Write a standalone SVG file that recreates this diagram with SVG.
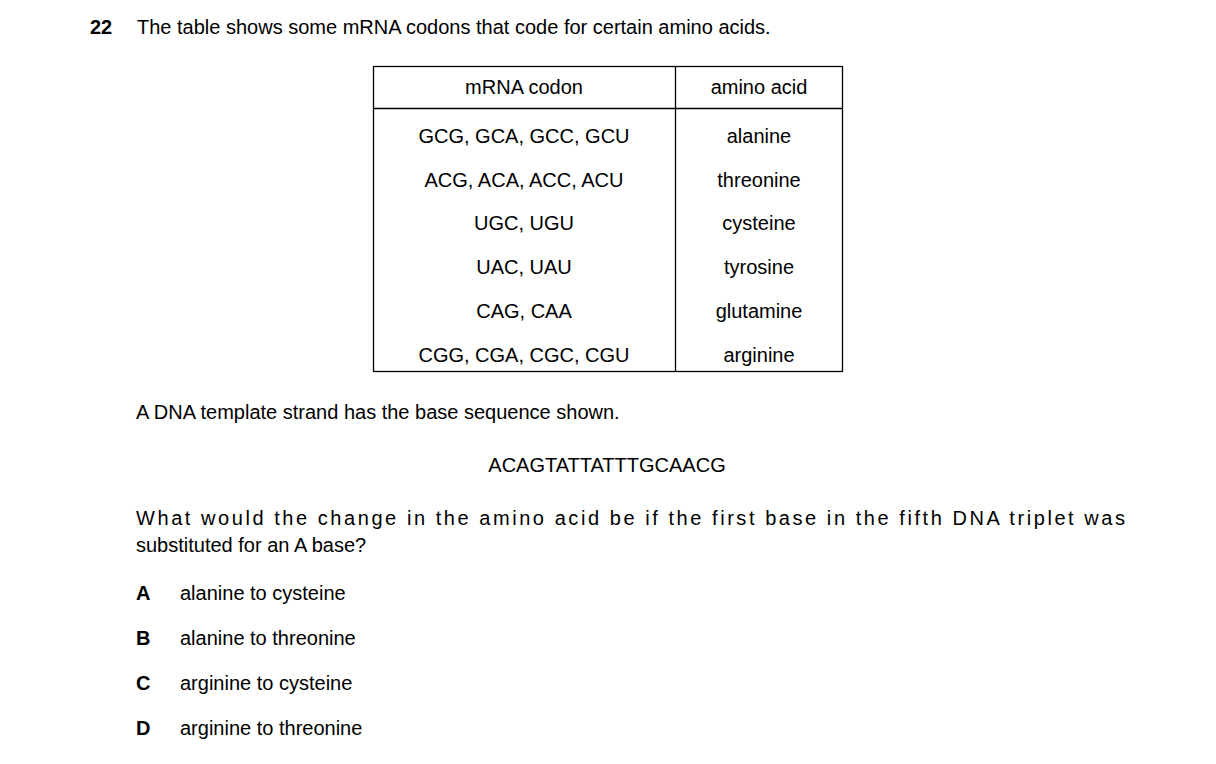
<svg xmlns="http://www.w3.org/2000/svg" width="1216" height="764" viewBox="0 0 1216 764">
<style>
text{font-family:"Liberation Sans",Arial,sans-serif;font-size:20px;fill:#000}
.b{font-weight:bold}
.c{text-anchor:middle}
</style>
<rect width="1216" height="764" fill="#fff"/>
<text x="90" y="34" class="b">22</text>
<text x="137" y="34">The table shows some mRNA codons that code for certain amino acids.</text>
<g fill="none" stroke="#000" stroke-width="1.3">
<rect x="373.5" y="66.5" width="469" height="305"/>
<line x1="675.5" y1="66" x2="675.5" y2="372"/>
<line x1="373" y1="108.5" x2="843" y2="108.5"/>
</g>
<text x="524" y="94" class="c">mRNA codon</text>
<text x="759" y="94" class="c">amino acid</text>
<text x="524" y="143" class="c">GCG, GCA, GCC, GCU</text>
<text x="759" y="143" class="c">alanine</text>
<text x="524" y="187" class="c">ACG, ACA, ACC, ACU</text>
<text x="759" y="187" class="c">threonine</text>
<text x="524" y="230" class="c">UGC, UGU</text>
<text x="759" y="230" class="c">cysteine</text>
<text x="524" y="274" class="c">UAC, UAU</text>
<text x="759" y="274" class="c">tyrosine</text>
<text x="524" y="318" class="c">CAG, CAA</text>
<text x="759" y="318" class="c">glutamine</text>
<text x="524" y="362" class="c">CGG, CGA, CGC, CGU</text>
<text x="759" y="362" class="c">arginine</text>
<text x="136" y="419">A DNA template strand has the base sequence shown.</text>
<text x="607" y="472" class="c">ACAGTATTATTTGCAACG</text>
<text x="136" y="525" textLength="989" lengthAdjust="spacing">What would the change in the amino acid be if the first base in the fifth DNA triplet was</text>
<text x="136" y="552">substituted for an A base?</text>
<text x="136" y="600" class="b">A</text><text x="180" y="600">alanine to cysteine</text>
<text x="136" y="645" class="b">B</text><text x="180" y="645">alanine to threonine</text>
<text x="136" y="690" class="b">C</text><text x="180" y="690">arginine to cysteine</text>
<text x="136" y="735" class="b">D</text><text x="180" y="735">arginine to threonine</text>
</svg>
